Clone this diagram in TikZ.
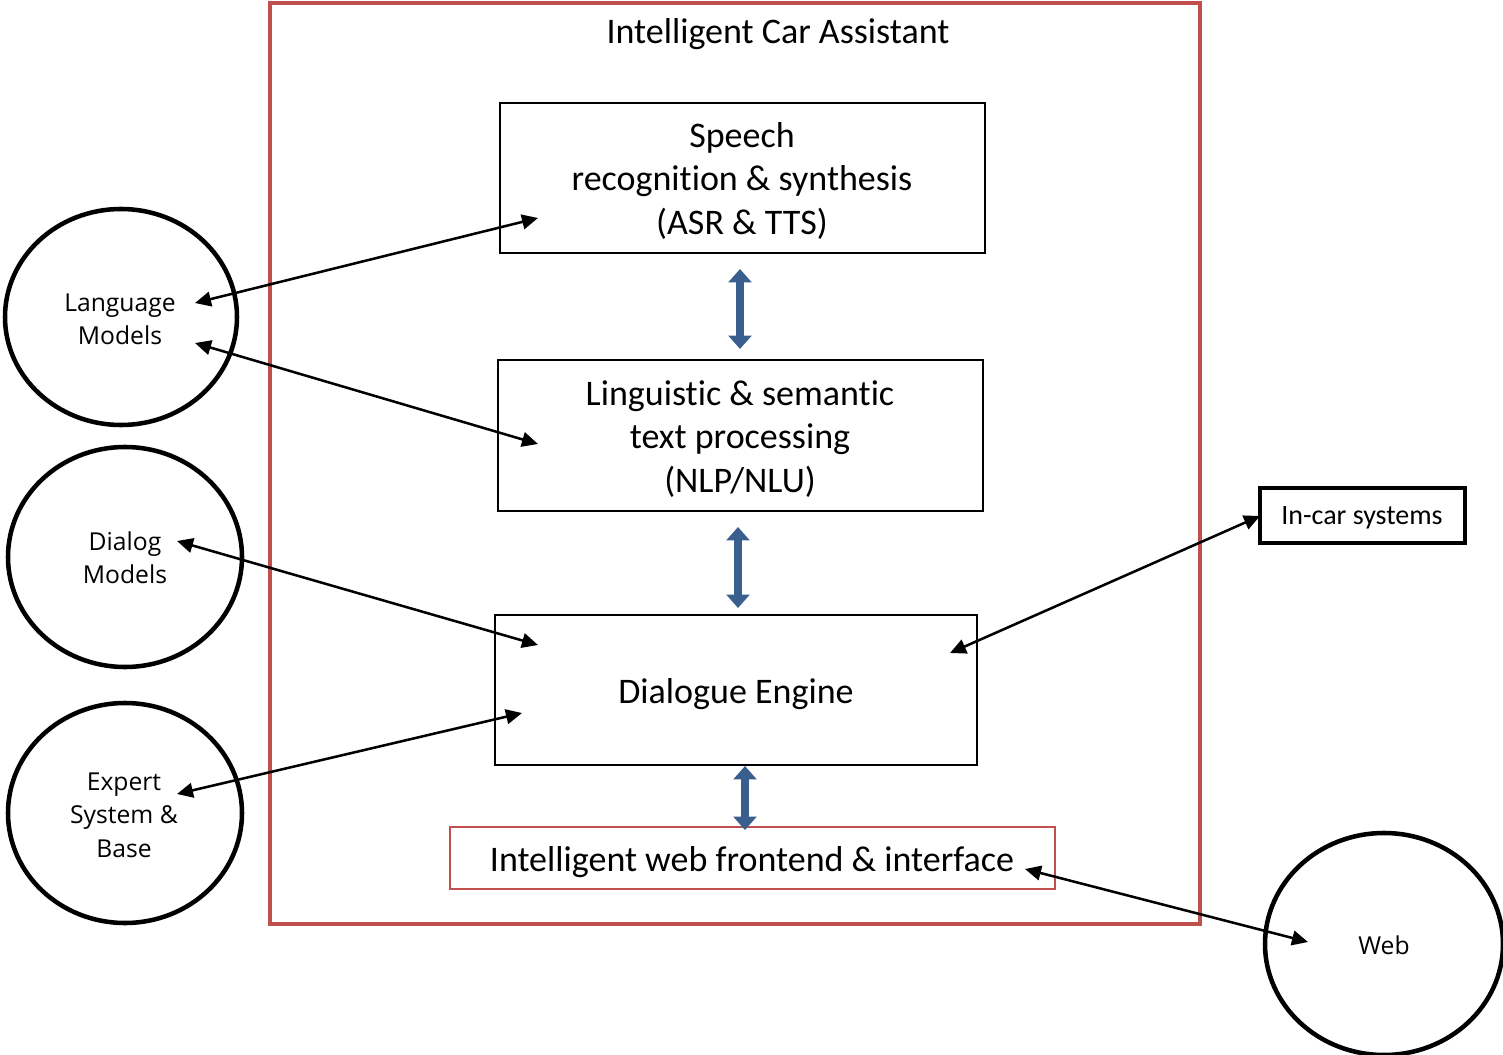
\documentclass[tikz,border=0pt]{standalone}
\usepackage{fontspec}
\setmainfont{Carlito}[Ligatures={NoCommon}]
\newfontfamily\circfont{Open Sans}
\usetikzlibrary{arrows.meta}
\definecolor{redframe}{HTML}{C0504D}
\definecolor{bluearrow}{HTML}{3A5F8E}
\tikzset{
  boxtext/.style={font=\fontsize{27}{32.5}\selectfont, align=center},
  circtext/.style={font=\circfont\fontsize{18.5}{25}\selectfont, align=center},
  circle line/.style={line width=3.4pt},
  link/.style={line width=1.9pt, {Triangle[length=12pt,width=11pt]}-{Triangle[length=12pt,width=11pt]}},
  flow/.style={line width=6.5pt, draw=bluearrow, {Triangle[length=10pt,width=17pt]}-{Triangle[length=10pt,width=17pt]}}
}
\begin{document}
\begin{tikzpicture}[x=0.75pt,y=-0.75pt]
\useasboundingbox (0,0) rectangle (1503,1055);
% outer frame
\draw[redframe, line width=3.6pt] (270,3) rectangle (1200,924);
\node[boxtext] (title) at (778,34) {Intelligent Car Assistant};
% boxes
\draw[line width=1.4pt] (500,103) rectangle (985,253);
\node[boxtext] (asr) at (742,181) {Speech\\recognition \& synthesis\\(ASR \& TTS)};
\draw[line width=1.4pt] (498,360) rectangle (983,511);
\node[boxtext] (nlp) at (740,439) {Linguistic \& semantic\\text processing\\(NLP/NLU)};
\draw[line width=1.4pt] (495,615) rectangle (977,765);
\node[boxtext] (de) at (736,694) {Dialogue Engine};
\draw[redframe, line width=1pt] (450,827) rectangle (1055,889);
\node[boxtext] (web) at (752,862) {Intelligent web frontend \& interface};
\draw[line width=3pt] (1260,488) rectangle (1465,543);
\node[font=\fontsize{21}{24}\selectfont] (incar) at (1362,518) {In-car systems};
% circles
\draw[circle line] (121,317) ellipse [x radius=116, y radius=108];
\node[circtext] (lm) at (120,319) {Language\\Models};
\draw[circle line] (125,557) ellipse [x radius=117, y radius=110];
\node[circtext] (dm) at (125,558) {Dialog\\Models};
\draw[circle line] (125,813) ellipse [x radius=117, y radius=110];
\node[circtext] (es) at (124,815) {Expert\\System \&\\Base};
\draw[circle line] (1384,944) ellipse [x radius=119, y radius=111];
\node[circtext] (wb) at (1384,945) {Web};
% link endpoints
\coordinate (lmA) at (195,303);
\coordinate (asrA) at (538,218);
\coordinate (lmB) at (195,343);
\coordinate (nlpA) at (538,444);
\coordinate (dmA) at (177,541);
\coordinate (deA) at (538,645);
\coordinate (esA) at (177,794);
\coordinate (deB) at (522,713);
\coordinate (deC) at (950,653);
\coordinate (incarA) at (1260,516);
\coordinate (webA) at (1025,869);
\coordinate (wbA) at (1308,942);
\draw[link] (lmA) -- (asrA);
\draw[link] (lmB) -- (nlpA);
\draw[link] (dmA) -- (deA);
\draw[link] (esA) -- (deB);
\draw[link] (deC) -- (incarA);
\draw[link] (webA) -- (wbA);
% flow arrows
\coordinate (f1a) at (740,269);
\coordinate (f1b) at (740,349);
\coordinate (f2a) at (738,527);
\coordinate (f2b) at (738,608);
\coordinate (f3a) at (745,766);
\coordinate (f3b) at (745,830);
\draw[flow] (f1a) -- (f1b);
\draw[flow] (f2a) -- (f2b);
\draw[flow] (f3a) -- (f3b);
\end{tikzpicture}
\end{document}
